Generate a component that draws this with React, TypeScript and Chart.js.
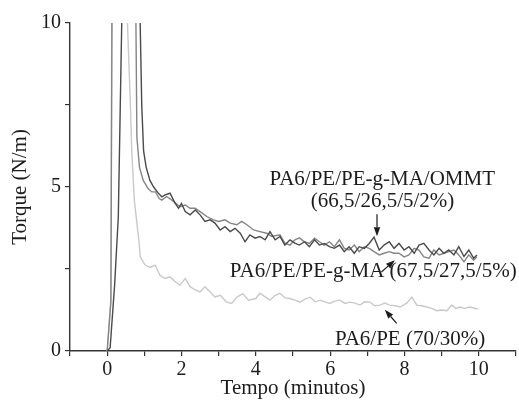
import React, { useEffect, useRef } from "react";
import { Chart, registerables } from "chart.js";

Chart.register(...registerables);

// Torque curves: [time (min), torque (N/m)]
const ommtCurve: [number, number][] = [
  [0, 0], [0.08, 0.1], [0.2, 2.0], [0.3, 4.1], [0.4, 10.5], [0.6, 14], [0.88, 10.5], [0.93, 7.5],
  [0.98, 6.1], [1.05, 5.6], [1.15, 5.2], [1.25, 5.0], [1.37, 4.82], [1.47, 4.7], [1.56, 4.76],
  [1.69, 4.81], [1.83, 4.5], [1.92, 4.35], [2.0, 4.5], [2.1, 4.25], [2.23, 4.15], [2.37, 4.3],
  [2.5, 4.15], [2.63, 3.95], [2.77, 4.0], [2.9, 3.9], [3.04, 3.69], [3.17, 3.79], [3.31, 3.64],
  [3.44, 3.74], [3.58, 3.59], [3.71, 3.33], [3.84, 3.54], [3.98, 3.44], [4.11, 3.49], [4.25, 3.39],
  [4.38, 3.64], [4.52, 3.39], [4.65, 3.49], [4.78, 3.23], [4.92, 3.39], [5.05, 3.29], [5.17, 3.23],
  [5.31, 3.33], [5.44, 3.18], [5.58, 3.39], [5.71, 3.23], [5.84, 3.28], [5.98, 3.18], [6.11, 3.13],
  [6.25, 3.23], [6.38, 3.03], [6.51, 3.18], [6.65, 2.98], [6.78, 3.18], [6.92, 3.13], [7.05, 3.28],
  [7.18, 3.47], [7.32, 3.08], [7.45, 3.23], [7.59, 3.33], [7.72, 3.13], [7.85, 3.28], [7.99, 3.08],
  [8.12, 3.18], [8.26, 2.98], [8.39, 3.23], [8.52, 3.28], [8.66, 3.08], [8.79, 2.93], [8.93, 3.13],
  [9.06, 2.98], [9.19, 3.08], [9.33, 2.93], [9.46, 3.18], [9.6, 2.88], [9.73, 3.08], [9.86, 2.83],
  [9.95, 2.93],
];

const peGmaCurve: [number, number][] = [
  [0, 0], [0.1, 1.5], [0.13, 10.5], [0.3, 14], [0.77, 10.5], [0.8, 6.5], [0.87, 5.6], [0.97, 5.2],
  [1.1, 4.95], [1.2, 4.85], [1.3, 4.85], [1.4, 4.65], [1.47, 4.6], [1.6, 4.71], [1.74, 4.6],
  [1.85, 4.5], [1.96, 4.4], [2.1, 4.45], [2.23, 4.35], [2.37, 4.35], [2.5, 4.25], [2.68, 4.1],
  [2.86, 4.0], [3.0, 3.95], [3.17, 4.0], [3.31, 3.9], [3.49, 3.85], [3.62, 3.95], [3.76, 3.85],
  [3.94, 3.69], [4.11, 3.64], [4.29, 3.59], [4.43, 3.49], [4.65, 3.54], [4.78, 3.29], [4.92, 3.23],
  [5.05, 3.39], [5.17, 3.45], [5.31, 3.33], [5.44, 3.28], [5.58, 3.44], [5.71, 3.33], [5.84, 3.23],
  [5.98, 3.33], [6.11, 3.18], [6.25, 3.39], [6.38, 3.13], [6.51, 3.08], [6.65, 3.23], [6.78, 3.03],
  [6.92, 3.18], [7.05, 3.13], [7.18, 3.03], [7.32, 2.93], [7.45, 2.98], [7.59, 3.03], [7.72, 2.98],
  [7.85, 2.98], [7.99, 2.87], [8.12, 2.93], [8.26, 3.13], [8.39, 3.08], [8.52, 2.87], [8.66, 2.83],
  [8.79, 3.08], [8.93, 2.93], [9.06, 2.98], [9.19, 3.03], [9.33, 3.08], [9.46, 2.93], [9.6, 2.72],
  [9.73, 2.93], [9.86, 2.77], [9.95, 2.87],
];

const pa6PeCurve: [number, number][] = [
  [0, 0], [0.1, 1.6], [0.125, 10.5], [0.3, 14], [0.53, 10.5], [0.62, 7.67], [0.66, 6.14], [0.73, 4.6],
  [0.81, 3.8], [0.86, 3.3], [0.89, 2.87], [1.02, 2.62], [1.16, 2.55], [1.29, 2.62], [1.42, 2.31],
  [1.56, 2.21], [1.69, 2.26], [1.83, 2.11], [1.96, 2.01], [2.1, 2.21], [2.23, 1.96], [2.37, 1.86],
  [2.5, 1.8], [2.63, 1.96], [2.77, 1.8], [2.9, 1.65], [3.05, 1.7], [3.2, 1.5], [3.35, 1.45],
  [3.5, 1.65], [3.65, 1.75], [3.8, 1.55], [4.0, 1.6], [4.11, 1.76], [4.25, 1.65], [4.38, 1.55],
  [4.52, 1.7], [4.65, 1.76], [4.78, 1.62], [4.92, 1.6], [5.05, 1.55], [5.19, 1.49], [5.32, 1.58],
  [5.46, 1.64], [5.6, 1.5], [5.73, 1.55], [5.86, 1.5], [5.99, 1.45], [6.12, 1.52], [6.26, 1.55],
  [6.4, 1.45], [6.53, 1.49], [6.67, 1.46], [6.8, 1.4], [6.93, 1.5], [7.07, 1.49], [7.2, 1.38],
  [7.34, 1.4], [7.47, 1.46], [7.6, 1.4], [7.75, 1.38], [7.88, 1.34], [8.05, 1.45], [8.2, 1.64],
  [8.33, 1.4], [8.47, 1.38], [8.6, 1.34], [8.73, 1.3], [8.87, 1.23], [9.0, 1.25], [9.14, 1.23],
  [9.27, 1.4], [9.38, 1.3], [9.49, 1.34], [9.62, 1.3], [9.76, 1.34], [9.97, 1.28],
];

const seriesNames = [
  "PA6/PE/PE-g-MA/OMMT (66,5/26,5/5/2%)",
  "PA6/PE/PE-g-MA (67,5/27,5/5%)",
  "PA6/PE (70/30%)",
];
const seriesColors = ["#4a4a4a", "#858585", "#c9c9c9"];

const xLabelTicks = [0, 2, 4, 6, 8, 10];
const yLabelTicks = [0, 5, 10];
const xTitle = "Tempo (minutos)";
const yTitle = "Torque (N/m)";

// Annotations (data coordinates)
const labels = [
  { text: "PA6/PE/PE-g-MA/OMMT", x: 7.4, y: 5.06 },
  { text: "(66,5/26,5/5/2%)", x: 7.41, y: 4.39 },
  { text: "PA6/PE/PE-g-MA (67,5/27,5/5%)", x: 7.16, y: 2.26 },
  { text: "PA6/PE (70/30%)", x: 8.15, y: 0.17 },
];
const arrows = [
  { x1: 7.26, y1: 4.17, x2: 7.26, y2: 3.5 },
  { x1: 7.38, y1: 2.41, x2: 7.74, y2: 2.77 },
  { x1: 7.79, y1: 0.84, x2: 7.47, y2: 1.26 },
];

const FONT = "'Liberation Serif', 'Times New Roman', serif";
const INK = "#1c1c1c";

const annotationPlugin = {
  id: "annotations",
  afterDatasetsDraw(chart: any) {
    const { ctx, scales } = chart;
    const xs = scales.x;
    const ys = scales.y;
    ctx.save();
    ctx.fillStyle = INK;
    ctx.strokeStyle = INK;
    ctx.font = `21px ${FONT}`;
    ctx.textAlign = "center";
    ctx.textBaseline = "alphabetic";
    for (const l of labels) {
      ctx.fillText(l.text, xs.getPixelForValue(l.x), ys.getPixelForValue(l.y));
    }
    ctx.lineWidth = 1.2;
    for (const a of arrows) {
      const x1 = xs.getPixelForValue(a.x1);
      const y1 = ys.getPixelForValue(a.y1);
      const x2 = xs.getPixelForValue(a.x2);
      const y2 = ys.getPixelForValue(a.y2);
      const ang = Math.atan2(y2 - y1, x2 - x1);
      const head = 9;
      const half = 3.2;
      const bx = x2 - head * Math.cos(ang);
      const by = y2 - head * Math.sin(ang);
      ctx.beginPath();
      ctx.moveTo(x1, y1);
      ctx.lineTo(bx, by);
      ctx.stroke();
      ctx.beginPath();
      ctx.moveTo(x2, y2);
      ctx.lineTo(bx + half * Math.sin(ang), by - half * Math.cos(ang));
      ctx.lineTo(bx - half * Math.sin(ang), by + half * Math.cos(ang));
      ctx.closePath();
      ctx.fill();
    }
    ctx.restore();
  },
};

export default function App() {
  const ref = useRef<HTMLCanvasElement | null>(null);
  useEffect(() => {
    if (!ref.current) return;
    const curves = [ommtCurve, peGmaCurve, pa6PeCurve];
    const chart = new Chart(ref.current, {
      type: "line",
      data: {
        datasets: curves.map((c, i) => ({
          label: seriesNames[i],
          data: c.map(([x, y]) => ({ x, y })),
          borderColor: seriesColors[i],
          borderWidth: 1.4,
          pointRadius: 0,
          tension: 0,
          fill: false,
          clip: 0,
        })),
      },
      options: {
        animation: false,
        responsive: false,
        devicePixelRatio: 1,
        layout: { padding: { left: 0, top: 23, right: 3, bottom: 0 } },
        plugins: { legend: { display: false }, tooltip: { enabled: false } },
        scales: {
          x: {
            type: "linear",
            min: -1,
            max: 11,
            afterFit: (s: any) => { s.height = 50; },
            border: { display: true, color: "#333", width: 1.4 },
            grid: { drawOnChartArea: false, drawTicks: true, tickLength: 5, color: "#333", lineWidth: 1.2 },
            ticks: {
              stepSize: 1,
              autoSkip: false,
              maxRotation: 0,
              padding: 2,
              color: INK,
              font: { family: FONT, size: 20 },
              callback: (v: any) => (xLabelTicks.includes(Number(v)) ? String(v) : ""),
            },
            title: {
              display: true,
              text: xTitle,
              color: INK,
              font: { family: FONT, size: 21 },
              padding: { top: 0, bottom: 0 },
            },
          },
          y: {
            type: "linear",
            min: 0,
            max: 10,
            afterFit: (s: any) => { s.width = 70; },
            border: { display: true, color: "#333", width: 1.4 },
            grid: { drawOnChartArea: false, drawTicks: true, tickLength: 5, color: "#333", lineWidth: 1.2 },
            ticks: {
              stepSize: 2.5,
              autoSkip: false,
              padding: 4,
              color: INK,
              font: { family: FONT, size: 20 },
              callback: (v: any) => (yLabelTicks.includes(Number(v)) ? String(v) : ""),
            },
            title: {
              display: true,
              text: yTitle,
              color: INK,
              font: { family: FONT, size: 21 },
              padding: { top: 8, bottom: 0 },
            },
          },
        },
      },
      plugins: [annotationPlugin],
    });
    return () => chart.destroy();
  }, []);
  return (
    <div style={{ position: "fixed", left: 0, top: 0, width: 519, height: 401, background: "#fff" }}>
      <canvas ref={ref} width={519} height={401} style={{ width: 519, height: 401, display: "block" }} />
    </div>
  );
}
